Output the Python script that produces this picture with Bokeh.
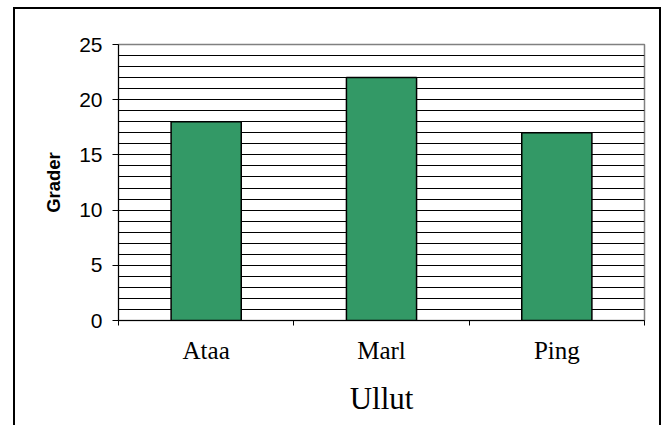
from bokeh.plotting import figure
from bokeh.layouts import column
from bokeh.models import ColumnDataSource, FixedTicker, Range1d
from bokeh.embed import file_html
from bokeh.resources import INLINE

categories = ["Ataa", "Marl", "Ping"]
values = [18, 22, 17]
y_ticks = [0, 5, 10, 15, 20, 25]
y_grid_ticks = list(range(0, 25))
x_title = "Ullut"
y_title = "Grader"

xs = list(range(len(categories)))
src = ColumnDataSource(dict(x=xs, top=values, cat=categories))

p = figure(width=644, height=416, output_backend="svg", toolbar_location=None,
           x_range=Range1d(-0.5, len(categories) - 0.5), y_range=Range1d(0, 25),
           min_border_left=103, min_border_right=15, min_border_top=35, min_border_bottom=105)

p.vbar(x="x", top="top", bottom=0, width=0.4, source=src,
       fill_color="#339966", line_color="black", line_width=1.5)

p.outline_line_color = "#808080"
p.outline_line_width = 1.5
p.background_fill_color = "white"
p.border_fill_color = "white"

p.xgrid.visible = False
p.ygrid.ticker = FixedTicker(ticks=y_grid_ticks)
p.ygrid.grid_line_color = "black"
p.ygrid.grid_line_width = 1

# y axis
ya = p.yaxis[0]
ya.ticker = FixedTicker(ticks=y_ticks, minor_ticks=[])
ya.axis_line_color = "black"
ya.major_tick_line_color = "black"
ya.major_tick_out = 6
ya.major_tick_in = 0
ya.minor_tick_line_color = None
ya.major_label_text_font = "Liberation Sans"
ya.major_label_text_font_size = "21px"
ya.major_label_text_color = "black"
ya.major_label_standoff = 10
ya.axis_label = y_title
ya.axis_label_text_font = "Liberation Sans"
ya.axis_label_text_font_style = "bold"
ya.axis_label_text_font_size = "18.5px"
ya.axis_label_text_color = "black"
ya.axis_label_standoff = 12

# x axis
xa = p.xaxis[0]
xa.ticker = FixedTicker(ticks=xs, minor_ticks=[i - 0.5 for i in range(len(categories) + 1)])
xa.major_label_overrides = {i: c for i, c in zip(xs, categories)}
xa.axis_line_color = "black"
xa.major_tick_line_color = None
xa.major_tick_out = 5
xa.major_tick_in = 0
xa.minor_tick_line_color = "black"
xa.minor_tick_out = 5
xa.minor_tick_in = 0
xa.major_label_text_font = "Liberation Serif"
xa.major_label_text_font_size = "25px"
xa.major_label_text_color = "black"
xa.major_label_standoff = 11
xa.axis_label = x_title
xa.axis_label_text_font = "Liberation Serif"
xa.axis_label_text_font_style = "normal"
xa.axis_label_text_font_size = "31px"
xa.axis_label_text_color = "black"
xa.axis_label_standoff = 14

# outer chart border drawn as the container's frame
layout = column(p, styles={"border": "2px solid black",
                           "margin-left": "13px", "margin-top": "7px"})

open("out.html", "w").write(file_html(layout, INLINE))
